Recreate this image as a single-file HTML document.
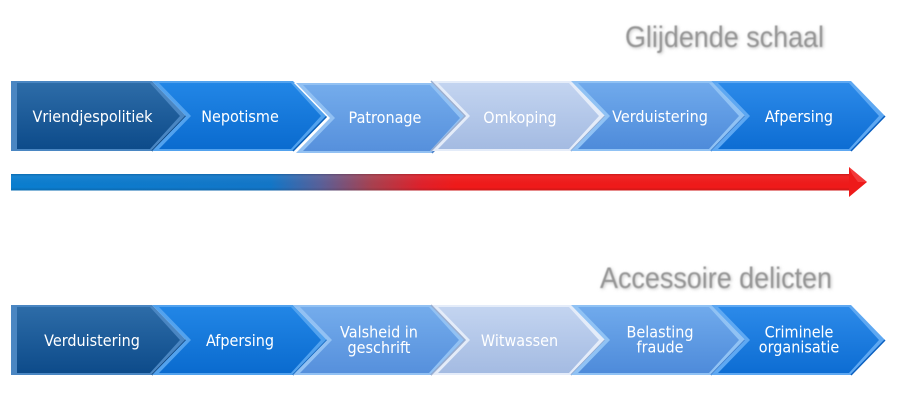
<!DOCTYPE html>
<html><head><meta charset="utf-8"><style>
html,body{margin:0;padding:0;background:#fff;}
svg{display:block;}
</style></head><body>
<svg width="900" height="405" viewBox="0 0 900 405" xmlns="http://www.w3.org/2000/svg">
<defs>
<linearGradient id="g1" x1="0" y1="0" x2="0" y2="1"><stop offset="0" stop-color="#2d6ca8"/><stop offset="1" stop-color="#0d4b8a"/></linearGradient>
<linearGradient id="g2" x1="0" y1="0" x2="0" y2="1"><stop offset="0" stop-color="#2286e6"/><stop offset="1" stop-color="#0a6bcf"/></linearGradient>
<linearGradient id="g3" x1="0" y1="0" x2="0" y2="1"><stop offset="0" stop-color="#74acec"/><stop offset="1" stop-color="#5690dc"/></linearGradient>
<linearGradient id="g4" x1="0" y1="0" x2="0" y2="1"><stop offset="0" stop-color="#c3d4f0"/><stop offset="1" stop-color="#a4bbe2"/></linearGradient>
<linearGradient id="g5" x1="0" y1="0" x2="0" y2="1"><stop offset="0" stop-color="#70aaec"/><stop offset="1" stop-color="#4e8bda"/></linearGradient>
<linearGradient id="g6" x1="0" y1="0" x2="0" y2="1"><stop offset="0" stop-color="#2c8ae9"/><stop offset="1" stop-color="#0d6dd3"/></linearGradient>
<linearGradient id="bar" x1="11" y1="0" x2="850" y2="0" gradientUnits="userSpaceOnUse">
<stop offset="0" stop-color="#0a7ed0"/>
<stop offset="0.31" stop-color="#1276c8"/>
<stop offset="0.37" stop-color="#5a5f98"/>
<stop offset="0.43" stop-color="#a8404f"/>
<stop offset="0.49" stop-color="#e0202a"/>
<stop offset="0.53" stop-color="#f01a1a"/>
<stop offset="1" stop-color="#f01a1a"/>
</linearGradient>
<linearGradient id="barv" x1="0" y1="0" x2="0" y2="1">
<stop offset="0" stop-color="#000" stop-opacity="0.15"/>
<stop offset="0.2" stop-color="#fff" stop-opacity="0.05"/>
<stop offset="0.8" stop-color="#000" stop-opacity="0"/>
<stop offset="1" stop-color="#000" stop-opacity="0.15"/>
</linearGradient>
<filter id="blur" x="-5%" y="-20%" width="110%" height="140%"><feGaussianBlur stdDeviation="1.6"/></filter>
<filter id="soft" x="-5%" y="-20%" width="110%" height="140%"><feGaussianBlur stdDeviation="0.45"/></filter>
</defs>

<!-- Titles -->
<g font-family="Liberation Sans, Arial, sans-serif" font-size="30">
<text x="626" y="48" textLength="199" lengthAdjust="spacingAndGlyphs" fill="#c4c4c4" filter="url(#blur)">Glijdende schaal</text>
<text x="625" y="47" textLength="199" lengthAdjust="spacingAndGlyphs" fill="#959595" filter="url(#soft)">Glijdende schaal</text>
<text x="601" y="289" textLength="232" lengthAdjust="spacingAndGlyphs" fill="#c4c4c4" filter="url(#blur)">Accessoire delicten</text>
<text x="600" y="288" textLength="232" lengthAdjust="spacingAndGlyphs" fill="#959595" filter="url(#soft)">Accessoire delicten</text>
</g>

<!-- TOP ROW -->
<g id="top">
<polygon points="11,81 152,81 186,116 152,151 11,151" fill="#4a86c2"/>
<polygon points="17,83 150,83 180,116 150,149 17,149" fill="url(#g1)"/>
<polyline points="152,151 186,116" stroke="#0a3f78" stroke-width="1.5" fill="none"/>

<polygon points="152,81 293,81 327,116 293,151 152,151 186,116" fill="#52a2ee"/>
<polygon points="159,83 291,83 321,116 291,149 159,149 191,116" fill="url(#g2)"/>
<polyline points="293,151 327,116" stroke="#0a5fb8" stroke-width="1.5" fill="none"/>

<polygon points="294,83 432,83 466,118 432,153 294,153 328,118" fill="#ffffff"/>
<polygon points="296,83 432,83 466,118 432,153 296,153 330,118" fill="#92c1f3"/>
<polygon points="303,85 430,85 460,118 430,151 303,151 335,118" fill="url(#g3)"/>
<polyline points="432,153 466,118" stroke="#4a80c8" stroke-width="1.5" fill="none"/>

<polygon points="431,81 571,81 605,116 571,151 431,151 465,116" fill="#e4ecf9"/>
<polygon points="438,83 569,83 599,116 569,149 438,149 470,116" fill="url(#g4)"/>
<polyline points="431,81 465,116 431,151" stroke="#9aaed0" stroke-width="1.5" fill="none"/>
<polyline points="571,151 605,116" stroke="#8ea6cc" stroke-width="1.5" fill="none"/>

<polygon points="571,81 711,81 745,116 711,151 571,151 605,116" fill="#90c2f4"/>
<polygon points="578,83 709,83 739,116 709,149 578,149 610,116" fill="url(#g5)"/>
<polyline points="711,151 745,116" stroke="#3f7cc8" stroke-width="1.5" fill="none"/>

<polygon points="711,81 851,81 885,116 851,151 711,151 745,116" fill="#5ea8f2"/>
<polygon points="718,83 849,83 879,116 849,149 718,149 750,116" fill="url(#g6)"/>
<polyline points="851,151 885,116" stroke="#0a5fc0" stroke-width="1.5" fill="none"/>
</g>

<g font-family="DejaVu Sans, Verdana, sans-serif" font-size="16" fill="#ffffff" text-anchor="middle">
<text x="92.5" y="122" transform="matrix(0.9,0,0,1,9.25,0)">Vriendjespolitiek</text>
<text x="240" y="122" transform="matrix(0.9,0,0,1,24,0)">Nepotisme</text>
<text x="385" y="123" transform="matrix(0.9,0,0,1,38.5,0)">Patronage</text>
<text x="520" y="123" transform="matrix(0.9,0,0,1,52,0)">Omkoping</text>
<text x="660" y="122" transform="matrix(0.9,0,0,1,66,0)">Verduistering</text>
<text x="799" y="122" transform="matrix(0.9,0,0,1,79.9,0)">Afpersing</text>
</g>

<!-- ARROW -->
<rect x="11" y="174" width="840" height="16.5" fill="url(#bar)"/>
<rect x="11" y="174" width="840" height="16.5" fill="url(#barv)"/>
<polygon points="849,167 867,182 849,197" fill="#ee1a1a"/>
<polygon points="849,167 867,182 858,182 852,174" fill="#f65050" opacity="0.6"/>

<!-- BOTTOM ROW -->
<g id="bottom">
<polygon points="11,305 152,305 186,340 152,375 11,375" fill="#4a86c2"/>
<polygon points="17,307 150,307 180,340 150,373 17,373" fill="url(#g1)"/>
<polyline points="152,375 186,340" stroke="#0a3f78" stroke-width="1.5" fill="none"/>

<polygon points="152,305 293,305 327,340 293,375 152,375 186,340" fill="#52a2ee"/>
<polygon points="159,307 291,307 321,340 291,373 159,373 191,340" fill="url(#g2)"/>
<polyline points="293,375 327,340" stroke="#0a5fb8" stroke-width="1.5" fill="none"/>

<polygon points="293,305 431,305 465,340 431,375 293,375 327,340" fill="#92c1f3"/>
<polygon points="300,307 429,307 459,340 429,373 300,373 332,340" fill="url(#g3)"/>
<polyline points="431,375 465,340" stroke="#4a80c8" stroke-width="1.5" fill="none"/>

<polygon points="431,305 571,305 605,340 571,375 431,375 465,340" fill="#e4ecf9"/>
<polygon points="438,307 569,307 599,340 569,373 438,373 470,340" fill="url(#g4)"/>
<polyline points="431,305 465,340 431,375" stroke="#9aaed0" stroke-width="1.5" fill="none"/>
<polyline points="571,375 605,340" stroke="#8ea6cc" stroke-width="1.5" fill="none"/>

<polygon points="571,305 711,305 745,340 711,375 571,375 605,340" fill="#90c2f4"/>
<polygon points="578,307 709,307 739,340 709,373 578,373 610,340" fill="url(#g5)"/>
<polyline points="711,375 745,340" stroke="#3f7cc8" stroke-width="1.5" fill="none"/>

<polygon points="711,305 851,305 885,340 851,375 711,375 745,340" fill="#5ea8f2"/>
<polygon points="718,307 849,307 879,340 849,373 718,373 750,340" fill="url(#g6)"/>
<polyline points="851,375 885,340" stroke="#0a5fc0" stroke-width="1.5" fill="none"/>
</g>

<g font-family="DejaVu Sans, Verdana, sans-serif" font-size="16" fill="#ffffff" text-anchor="middle">
<text x="92" y="346" transform="matrix(0.9,0,0,1,9.2,0)">Verduistering</text>
<text x="240" y="346" transform="matrix(0.9,0,0,1,24,0)">Afpersing</text>
<text x="379" y="337.5" transform="matrix(0.9,0,0,1,37.9,0)">Valsheid in</text>
<text x="379" y="353" transform="matrix(0.9,0,0,1,37.9,0)">geschrift</text>
<text x="519.5" y="346" transform="matrix(0.9,0,0,1,51.95,0)">Witwassen</text>
<text x="660" y="337.5" transform="matrix(0.9,0,0,1,66,0)">Belasting</text>
<text x="660" y="352.5" transform="matrix(0.9,0,0,1,66,0)">fraude</text>
<text x="799" y="337.5" transform="matrix(0.9,0,0,1,79.9,0)">Criminele</text>
<text x="799" y="352.5" transform="matrix(0.9,0,0,1,79.9,0)">organisatie</text>
</g>
</svg>
</body></html>
